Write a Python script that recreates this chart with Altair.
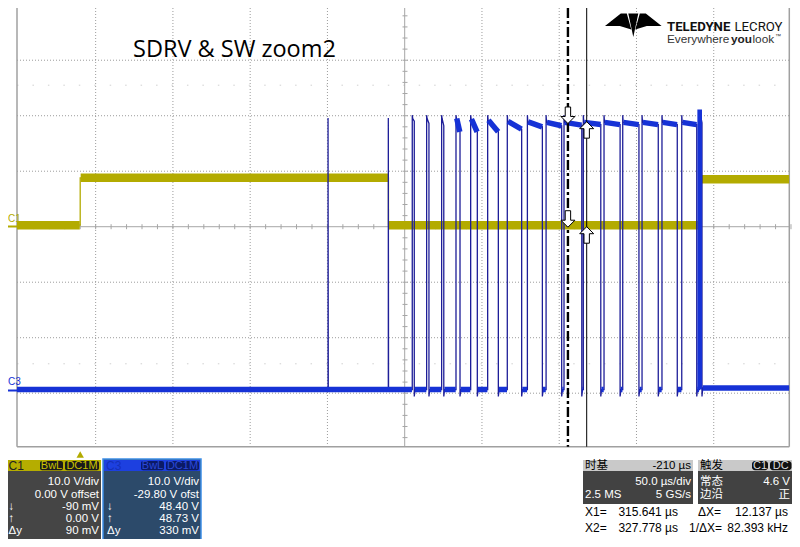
import altair as alt
import pandas as pd

# ------------------------------------------------------------------ data
# horizontal axis: time in µs (trigger at 0 µs, 50 µs/div, delay -210 µs -> centre = 210 µs)
t_frame_us = [-40.9, 458.9]
# vertical axis: screen divisions visible (centre line = 0 div)
div_frame = [-3.964, 3.941]

grid_t_us = [10, 60, 110, 160, 260, 310, 360, 410]
grid_div = [-3, -2, -1, 1, 2, 3]
faint_div = [2.55, -2.47]
center_t_us = 210.0

# channel C1 (yellow): 10 V/div, 0 V offset
c1_vdiv, c1_offset_v = 10.0, 0.0
c1_edge_us = [0.0, 199.5, 401.8]
c1_level_v = [0.27, 8.80, 0.27, 8.56]

# channel C3 (blue): 10 V/div, -29.80 V offset
c3_vdiv, c3_offset_v = 10.0, -29.80
c3_spike_us = [160.4, 199.4]
c3_spike_v = [49.4, 49.4]
c3_rise_us = [214.9, 224.2, 233.9, 243.2, 252.7, 263.7, 276.4, 289.4, 301.5,
              313.1, 325.6, 339.0, 351.1, 363.6, 376.5, 389.3, 400.7]
c3_fall_us = [216.2, 225.7, 235.3, 245.8, 257.0, 270.6, 285.7, 299.1, 311.6,
              324.6, 336.9, 349.4, 361.6, 374.1, 386.4, 399.0, 402.4]
c3_top_start_v = [49.3, 49.3, 49.3, 49.3, 49.2, 49.0, 48.8, 48.7, 48.6,
                  48.6, 48.6, 48.6, 48.6, 48.6, 48.6, 48.6, 50.5]
c3_top_end_v = [48.8, 48.4, 48.0, 46.9, 46.9, 46.9, 47.4, 47.8, 48.0,
                48.1, 48.2, 48.2, 48.2, 48.2, 48.2, 48.2, 48.5]
c3_peak_v = 49.9
c3_low_v = 0.45
c3_final_low_v = 0.75
c3_undershoot_v = -0.8
c3_burst_top_v = 50.9

# cursors
cursor_x1_us, cursor_x2_us = 315.641, 327.778
c1_cursor_v = [-0.09, 0.00]
c3_cursor_v = [48.40, 48.73]

# ------------------------------------------------------------------ layout helpers
W, H = 772.3, 438.7
PAD = {"left": 9, "top": 0, "right": 784 - 9 - W, "bottom": 531 - H}


def px(x):
    return x - 17


def py(y):
    return y - 8


C1_COL = "#b3ab00"
C3_THIN = "#1e1e98"
C3_THICK = "#1632d6"
GRID = "#9c9c9c"
SANS = "Liberation Sans, Arial, sans-serif"
CJK = "Noto Sans CJK SC"
PS = 11.5  # panel text size

xs = alt.Scale(domain=t_frame_us, nice=False, zero=False)
ys = alt.Scale(domain=div_frame, nice=False, zero=False)


def X(f):
    return alt.X(f, type="quantitative", scale=xs, axis=None)


def Y(f):
    return alt.Y(f, type="quantitative", scale=ys, axis=None)


def X2(f):
    return alt.X2(f)


def Y2(f):
    return alt.Y2(f)


def c1d(v):
    return (v + c1_offset_v) / c1_vdiv


def c3d(v):
    return (v + c3_offset_v) / c3_vdiv


one = pd.DataFrame({"k": [0]})


def drect(x0, y0, x1, y1, **kw):
    return alt.Chart(one).mark_rect(**kw).encode(
        x=alt.value(px(x0)), x2=alt.value(px(x1)),
        y=alt.value(py(y0)), y2=alt.value(py(y1)))


def dtext(s, x, y, size=PS, color="white", align="left", font=SANS,
          weight="normal", baseline="middle"):
    return alt.Chart(one).mark_text(
        text=s, fontSize=size, color=color, align=align, font=font,
        fontWeight=weight, baseline=baseline).encode(
        x=alt.value(px(x)), y=alt.value(py(y)))


layers = []

# ------------------------------------------------------------------ graticule
layers.append(alt.Chart(pd.DataFrame({"t": grid_t_us})).mark_rule(
    color=GRID, strokeDash=[1, 2], strokeWidth=1).encode(
    x=X("t"), y=alt.value(0), y2=alt.value(H)))
layers.append(alt.Chart(pd.DataFrame({"d": grid_div})).mark_rule(
    color=GRID, strokeDash=[1, 2], strokeWidth=1).encode(
    y=Y("d"), x=alt.value(0), x2=alt.value(W)))
layers.append(alt.Chart(pd.DataFrame({"d": faint_div})).mark_rule(
    color="#d0d0d0", strokeDash=[1.5, 13.95], strokeWidth=1).encode(
    y=Y("d"), x=alt.value(0), x2=alt.value(W)))
# centre cross
layers.append(alt.Chart(pd.DataFrame({"t": [center_t_us]})).mark_rule(
    color="#a6a6a6", strokeWidth=1).encode(x=X("t"), y=alt.value(0), y2=alt.value(H)))
layers.append(alt.Chart(pd.DataFrame({"d": [0]})).mark_rule(
    color="#a6a6a6", strokeWidth=1).encode(y=Y("d"), x=alt.value(0), x2=alt.value(W)))
tick_t = [-40 + 10 * k for k in range(51)]
tick_d = [-3.8 + 0.2 * k for k in range(39)]
layers.append(alt.Chart(pd.DataFrame({"t": tick_t})).mark_rule(
    color="#a6a6a6", strokeWidth=1).encode(
    x=X("t"), y=alt.value(py(224.2)), y2=alt.value(py(229.2))))
layers.append(alt.Chart(pd.DataFrame({"d": tick_d})).mark_rule(
    color="#a6a6a6", strokeWidth=1).encode(
    y=Y("d"), x=alt.value(px(402.5)), x2=alt.value(px(407.5))))
# frame (left, right, bottom)
layers.append(alt.Chart(pd.DataFrame({"t": t_frame_us})).mark_rule(
    color="#a0a0a0", strokeWidth=1.5).encode(x=X("t"), y=alt.value(0), y2=alt.value(H)))
layers.append(alt.Chart(pd.DataFrame({"d": [div_frame[0]]})).mark_rule(
    color="#a0a0a0", strokeWidth=1.5).encode(y=Y("d"), x=alt.value(0), x2=alt.value(W)))

# ------------------------------------------------------------------ C1 trace
c1_pts = [(t_frame_us[0], c1_level_v[0])]
for i, e in enumerate(c1_edge_us):
    c1_pts.append((e, c1_level_v[i]))
    c1_pts.append((e, c1_level_v[i + 1]))
c1_pts.append((t_frame_us[1], c1_level_v[-1]))
c1_line = pd.DataFrame({"t": [p[0] for p in c1_pts],
                        "y": [c1d(p[1]) for p in c1_pts],
                        "i": list(range(len(c1_pts)))})
layers.append(alt.Chart(c1_line).mark_line(color=C1_COL, strokeWidth=1.3, clip=True).encode(
    x=X("t"), y=Y("y"), order="i"))
bounds = [t_frame_us[0]] + c1_edge_us + [t_frame_us[1]]
c1_band = pd.DataFrame({
    "t0": [bounds[i] + (0.3 if i > 0 else 0) for i in range(len(c1_level_v))],
    "t1": [bounds[i + 1] - (0.3 if i + 1 < len(bounds) - 1 else 0) for i in range(len(c1_level_v))],
    "y": [c1d(v) for v in c1_level_v]})
layers.append(alt.Chart(c1_band).mark_rule(color=C1_COL, strokeWidth=8.5, clip=True).encode(
    x=X("t0"), x2=X2("t1"), y=Y("y")))

# ------------------------------------------------------------------ C3 trace
rows = []


def add(t, v):
    rows.append({"t": t, "y": c3d(v), "i": len(rows)})


add(t_frame_us[0], c3_low_v)
for s, sv in zip(c3_spike_us, c3_spike_v):
    add(s, c3_low_v)
    add(s, sv)
    add(s + 0.15, c3_low_v)
n = len(c3_rise_us)
for k in range(n):
    r, f = c3_rise_us[k], c3_fall_us[k]
    add(r, c3_low_v)
    add(r, c3_peak_v)
    add(r + 0.3, c3_top_start_v[k])
    add(f, c3_top_end_v[k])
    add(f, c3_undershoot_v)
    add(f + 0.5, c3_low_v if k < n - 1 else c3_final_low_v)
add(t_frame_us[1], c3_final_low_v)
c3_line = pd.DataFrame(rows)
layers.append(alt.Chart(c3_line).mark_line(color=C3_THIN, strokeWidth=1.3, clip=True).encode(
    x=X("t"), y=Y("y"), order="i"))

bands = []
bands.append((t_frame_us[0], c3_low_v, c3_rise_us[0] - 0.2, c3_low_v))
for k in range(n):
    r, f = c3_rise_us[k], c3_fall_us[k]
    if k >= 3 and k < n - 1:
        bands.append((r + 0.5, c3_top_start_v[k], f - 0.15, c3_top_end_v[k]))
    if k < n - 1:
        bands.append((f + 0.4, c3_low_v, c3_rise_us[k + 1] - 0.2, c3_low_v))
bands.append((c3_fall_us[-1] + 0.4, c3_final_low_v, t_frame_us[1], c3_final_low_v))
c3_band = pd.DataFrame({"t0": [b[0] for b in bands], "y0": [c3d(b[1]) for b in bands],
                        "t1": [b[2] for b in bands], "y1": [c3d(b[3]) for b in bands]})
layers.append(alt.Chart(c3_band).mark_rule(color=C3_THICK, strokeWidth=5.5, clip=True).encode(
    x=X("t0"), x2=X2("t1"), y=Y("y0"), y2=Y2("y1")))
burst = pd.DataFrame({"t0": [c3_fall_us[-2] + 0.4], "t1": [c3_fall_us[-1]],
                      "y0": [c3d(c3_low_v)], "y1": [c3d(c3_burst_top_v)]})
layers.append(alt.Chart(burst).mark_rect(color=C3_THICK, clip=True).encode(
    x=X("t0"), x2=X2("t1"), y=Y("y0"), y2=Y2("y1")))

# ------------------------------------------------------------------ cursors
layers.append(alt.Chart(pd.DataFrame({"t": [cursor_x1_us]})).mark_rule(
    color="black", strokeWidth=2.4, strokeDash=[10, 3, 3, 3]).encode(
    x=X("t"), y=alt.value(0), y2=alt.value(H)))
layers.append(alt.Chart(pd.DataFrame({"t": [cursor_x2_us]})).mark_rule(
    color="black", strokeWidth=1).encode(x=X("t"), y=alt.value(0), y2=alt.value(H)))
DOWN = "M0,0 L-7,-7 L-2.7,-7 L-2.7,-16.5 L2.7,-16.5 L2.7,-7 L7,-7 Z"
UP = "M0,0 L-7,7 L-2.7,7 L-2.7,16.5 L2.7,16.5 L2.7,7 L7,7 Z"
down_pts = pd.DataFrame({"t": [cursor_x1_us, cursor_x1_us],
                         "y": [c3d(c3_cursor_v[0]), c1d(c1_cursor_v[0])]})
up_pts = pd.DataFrame({"t": [cursor_x2_us, cursor_x2_us],
                       "y": [c3d(c3_cursor_v[1]), c1d(c1_cursor_v[1])]})
for dfp, shp in ((down_pts, DOWN), (up_pts, UP)):
    layers.append(alt.Chart(dfp).mark_point(
        shape=shp, size=4, filled=True, fill="white", stroke="black",
        strokeWidth=1, opacity=1).encode(x=X("t"), y=Y("y")))

# ------------------------------------------------------------------ title & logo
layers.append(dtext("SDRV & SW zoom2", 133, 56.7, size=23.5, color="black",
                    font="Open Sans", baseline="alphabetic"))
LOGO = ("M-28.3,12.5 L-12.5,0 L-6.5,0 L-2,16 L-13.5,12.5 Z "
        "M-5,0 L5,0 L0,23.4 Z "
        "M28.3,12.5 L12.5,0 L6.5,0 L2,16 L13.5,12.5 Z")
layers.append(alt.Chart(one).mark_point(
    shape=LOGO, size=4, filled=True, fill="black", strokeWidth=0, opacity=1).encode(
    x=alt.value(px(633.3)), y=alt.value(py(13.5))))
layers.append(dtext("TELEDYNE", 667, 31, size=13.2, color="#111", font="Roboto",
                    weight="bold", baseline="alphabetic"))
layers.append(dtext("LECROY", 734.5, 31, size=13.2, color="#111", font="Roboto",
                    baseline="alphabetic"))
layers.append(dtext("Everywhere", 667, 42.5, size=11.8, color="#333", baseline="alphabetic"))
layers.append(dtext("you", 731, 42.5, size=11.8, color="#222", weight="bold",
                    baseline="alphabetic"))
layers.append(dtext("look", 752.5, 42.5, size=11.8, color="#333", baseline="alphabetic"))
layers.append(dtext("™", 775, 37.5, size=6, color="#333", baseline="alphabetic"))

# ------------------------------------------------------------------ channel markers
layers.append(dtext("C1", 8, 218.5, size=10, color=C1_COL))
layers.append(drect(7, 225.5, 17, 227.5, fill=C1_COL))
layers.append(dtext("C3", 8, 382, size=10, color=C3_THICK))
layers.append(drect(7, 389.5, 17, 391.5, fill=C3_THICK))
layers.append(alt.Chart(pd.DataFrame({"t": [c1_edge_us[0]]})).mark_point(
    shape="triangle-up", size=55, filled=True, fill=C1_COL, opacity=1).encode(
    x=X("t"), y=alt.value(py(454.5))))

ROWS = (482, 494.5, 507, 519, 531)

# ------------------------------------------------------------------ C1 panel
layers.append(drect(3, 460, 101, 471, fill="#b5ad00"))
layers.append(dtext("C1", 8.5, 465.7, size=12, color="#222"))
layers.append(drect(40, 461, 63, 470.2, fill="#1a1a1a", cornerRadius=2))
layers.append(dtext("BwL", 51.5, 465.7, size=11, color="#c8c000", align="center"))
layers.append(drect(65, 461, 99, 470.2, fill="#1a1a1a", cornerRadius=2))
layers.append(dtext("DC1M", 82, 465.7, size=11, color="#c8c000", align="center"))
layers.append(drect(3, 471, 101, 546, fill="#454545"))
for s, yy in zip(("10.0 V/div", "0.00 V offset", "-90 mV", "0.00 V", "90 mV"), ROWS):
    layers.append(dtext(s, 99, yy, align="right"))
for s, yy in zip(("↓", "↑", "Δy"), ROWS[2:]):
    layers.append(dtext(s, 8.5, yy))

# ------------------------------------------------------------------ C3 panel
layers.append(drect(103, 459, 201, 547, fill="#2c4a6a", stroke="#3d8fe8", strokeWidth=1.5))
layers.append(drect(104, 460, 200, 471, fill="#1d40e0"))
layers.append(dtext("C3", 106, 465.7, size=12, color="#1530b8"))
layers.append(drect(141, 461, 164, 470.2, fill="#0b1a66", cornerRadius=2))
layers.append(dtext("BwL", 152.5, 465.7, size=11, color="#2a48d8", align="center"))
layers.append(drect(166, 461, 199, 470.2, fill="#0b1a66", cornerRadius=2))
layers.append(dtext("DC1M", 182.5, 465.7, size=11, color="#2a48d8", align="center"))
for s, yy in zip(("10.0 V/div", "-29.80 V ofst", "48.40 V", "48.73 V", "330 mV"), ROWS):
    layers.append(dtext(s, 199, yy, align="right"))
for s, yy in zip(("↓", "↑", "Δy"), ROWS[2:]):
    layers.append(dtext(s, 107, yy))

# ------------------------------------------------------------------ timebase / trigger panels
layers.append(drect(583, 460, 693, 471, fill="#c9c9c9"))
layers.append(dtext("时基", 585, 465.5, size=11.5, color="black", font=CJK))
layers.append(dtext("-210 µs", 691, 465.7, color="black", align="right"))
layers.append(drect(583, 471, 693, 504, fill="#424242"))
layers.append(dtext("50.0 µs/div", 691, 482, align="right"))
layers.append(dtext("2.5 MS", 585, 494.5))
layers.append(dtext("5 GS/s", 691, 494.5, align="right"))

layers.append(drect(698, 460, 796, 471, fill="#c9c9c9"))
layers.append(dtext("触发", 700, 465.5, size=11.5, color="black", font=CJK))
layers.append(drect(752, 461, 768, 470.2, fill="#111", cornerRadius=3))
layers.append(dtext("C1", 760, 465.7, size=11, color="#dddddd", align="center"))
layers.append(drect(770, 461, 791.5, 470.2, fill="#111", cornerRadius=3))
layers.append(dtext("DC", 780.7, 465.7, size=11, color="#dddddd", align="center"))
layers.append(drect(698, 471, 796, 504, fill="#424242"))
layers.append(dtext("常态", 700, 482, size=11.5, font=CJK))
layers.append(dtext("4.6 V", 790, 482, align="right"))
layers.append(dtext("边沿", 700, 494.5, size=11.5, font=CJK))
layers.append(dtext("正", 790, 494.5, size=11.5, font=CJK, align="right"))

# cursor readouts
layers.append(dtext("X1=", 585, 511.5, size=12, color="black"))
layers.append(dtext("315.641 µs", 678, 511.5, size=12, color="black", align="right"))
layers.append(dtext("ΔX=", 698, 511.5, size=12, color="black"))
layers.append(dtext("12.137 µs", 788, 511.5, size=12, color="black", align="right"))
layers.append(dtext("X2=", 585, 528, size=12, color="black"))
layers.append(dtext("327.778 µs", 678, 528, size=12, color="black", align="right"))
layers.append(dtext("1/ΔX=", 689, 528, size=12, color="black"))
layers.append(dtext("82.393 kHz", 788, 528, size=12, color="black", align="right"))

chart = alt.layer(*layers).properties(
    width=W, height=H, padding=PAD,
    autosize=alt.AutoSizeParams(type="none"),
    background="white",
).configure_view(stroke=None)

chart.save("out.html", embed_options={"renderer": "svg", "actions": False})
